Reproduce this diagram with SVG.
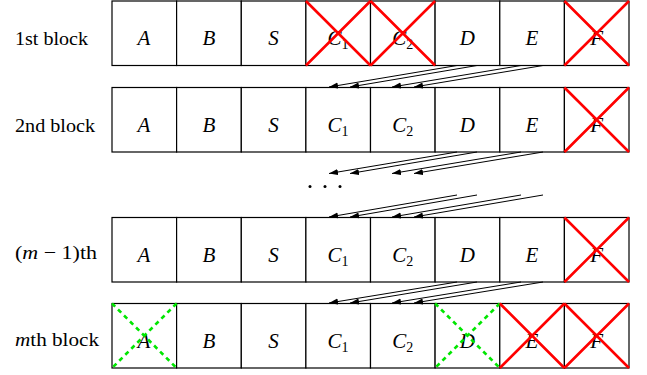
<svg xmlns="http://www.w3.org/2000/svg" width="647" height="375" viewBox="0 0 647 375" font-family="Liberation Serif, serif">
<defs>
<style>
.cell{fill:#fff;stroke:#000;stroke-width:1.2}
.m{font-style:italic;font-size:21px;text-anchor:middle;fill:#000}
.sub{font-style:normal;font-size:14px}
.lbl{font-size:19px;fill:#000}
.rx{stroke:#ff0000;stroke-width:2.6;fill:none}
.gx{stroke:#00e600;stroke-width:2.6;fill:none;stroke-dasharray:4.5,4}
.arr{stroke:#000;stroke-width:1;fill:none;marker-end:url(#ah)}
</style>
<marker id="ah" markerUnits="userSpaceOnUse" markerWidth="10" markerHeight="8" refX="9" refY="3" orient="auto">
<path d="M0,0 L9,3 L0,6 z" fill="#000"/>
</marker>
</defs>
<rect width="647" height="375" fill="#fff"/>

<g id="row1">
<text class="lbl" x="15" y="45" textLength="73" lengthAdjust="spacingAndGlyphs">1st block</text>
<rect class="cell" x="112" y="1" width="64.6" height="64.5"/>
<rect class="cell" x="176.6" y="1" width="64.7" height="64.5"/>
<rect class="cell" x="241.3" y="1" width="64.6" height="64.5"/>
<rect class="cell" x="305.9" y="1" width="64.6" height="64.5"/>
<rect class="cell" x="370.5" y="1" width="64.6" height="64.5"/>
<rect class="cell" x="435.1" y="1" width="64.7" height="64.5"/>
<rect class="cell" x="499.8" y="1" width="64.6" height="64.5"/>
<rect class="cell" x="564.4" y="1" width="64.6" height="64.5"/>
<text class="m" x="144" y="45">A</text>
<text class="m" x="209" y="45">B</text>
<text class="m" x="273.6" y="45">S</text>
<text class="m" x="338" y="45">C<tspan class="sub" dy="4">1</tspan></text>
<text class="m" x="402.8" y="45">C<tspan class="sub" dy="4">2</tspan></text>
<text class="m" x="467.4" y="45">D</text>
<text class="m" x="532" y="45">E</text>
<text class="m" x="596.7" y="45">F</text>
<path class="rx" d="M305.9,1 L370.5,65.5 M370.5,1 L305.9,65.5 M370.5,1 L435.1,65.5 M435.1,1 L370.5,65.5 M564.4,1 L629,65.5 M629,1 L564.4,65.5"/>
</g>

<g id="row2">
<text class="lbl" x="15" y="131.5" textLength="80" lengthAdjust="spacingAndGlyphs">2nd block</text>
<rect class="cell" x="112" y="87.5" width="64.6" height="64.5"/>
<rect class="cell" x="176.6" y="87.5" width="64.7" height="64.5"/>
<rect class="cell" x="241.3" y="87.5" width="64.6" height="64.5"/>
<rect class="cell" x="305.9" y="87.5" width="64.6" height="64.5"/>
<rect class="cell" x="370.5" y="87.5" width="64.6" height="64.5"/>
<rect class="cell" x="435.1" y="87.5" width="64.7" height="64.5"/>
<rect class="cell" x="499.8" y="87.5" width="64.6" height="64.5"/>
<rect class="cell" x="564.4" y="87.5" width="64.6" height="64.5"/>
<text class="m" x="144" y="131.5">A</text>
<text class="m" x="209" y="131.5">B</text>
<text class="m" x="273.6" y="131.5">S</text>
<text class="m" x="338" y="131.5">C<tspan class="sub" dy="4">1</tspan></text>
<text class="m" x="402.8" y="131.5">C<tspan class="sub" dy="4">2</tspan></text>
<text class="m" x="467.4" y="131.5">D</text>
<text class="m" x="532" y="131.5">E</text>
<text class="m" x="596.7" y="131.5">F</text>
<path class="rx" d="M564.4,87.5 L629,152 M629,87.5 L564.4,152"/>
</g>

<g id="dots">
<circle cx="310" cy="186.5" r="1.5" fill="#000"/>
<circle cx="325" cy="186.5" r="1.5" fill="#000"/>
<circle cx="340" cy="186.5" r="1.5" fill="#000"/>
</g>

<g id="row3">
<text class="lbl" x="15" y="259" textLength="82" lengthAdjust="spacingAndGlyphs">(<tspan font-style="italic">m</tspan> − 1)th</text>
<rect class="cell" x="112" y="217.5" width="64.6" height="64.5"/>
<rect class="cell" x="176.6" y="217.5" width="64.7" height="64.5"/>
<rect class="cell" x="241.3" y="217.5" width="64.6" height="64.5"/>
<rect class="cell" x="305.9" y="217.5" width="64.6" height="64.5"/>
<rect class="cell" x="370.5" y="217.5" width="64.6" height="64.5"/>
<rect class="cell" x="435.1" y="217.5" width="64.7" height="64.5"/>
<rect class="cell" x="499.8" y="217.5" width="64.6" height="64.5"/>
<rect class="cell" x="564.4" y="217.5" width="64.6" height="64.5"/>
<text class="m" x="144" y="261.5">A</text>
<text class="m" x="209" y="261.5">B</text>
<text class="m" x="273.6" y="261.5">S</text>
<text class="m" x="338" y="261.5">C<tspan class="sub" dy="4">1</tspan></text>
<text class="m" x="402.8" y="261.5">C<tspan class="sub" dy="4">2</tspan></text>
<text class="m" x="467.4" y="261.5">D</text>
<text class="m" x="532" y="261.5">E</text>
<text class="m" x="596.7" y="261.5">F</text>
<path class="rx" d="M564.4,217.5 L629,282 M629,217.5 L564.4,282"/>
</g>

<g id="row4">
<text class="lbl" x="15" y="346" textLength="84" lengthAdjust="spacingAndGlyphs"><tspan font-style="italic">m</tspan>th block</text>
<rect class="cell" x="112" y="303.5" width="64.6" height="64.5"/>
<rect class="cell" x="176.6" y="303.5" width="64.7" height="64.5"/>
<rect class="cell" x="241.3" y="303.5" width="64.6" height="64.5"/>
<rect class="cell" x="305.9" y="303.5" width="64.6" height="64.5"/>
<rect class="cell" x="370.5" y="303.5" width="64.6" height="64.5"/>
<rect class="cell" x="435.1" y="303.5" width="64.7" height="64.5"/>
<rect class="cell" x="499.8" y="303.5" width="64.6" height="64.5"/>
<rect class="cell" x="564.4" y="303.5" width="64.6" height="64.5"/>
<text class="m" x="144" y="347.5">A</text>
<text class="m" x="209" y="347.5">B</text>
<text class="m" x="273.6" y="347.5">S</text>
<text class="m" x="338" y="347.5">C<tspan class="sub" dy="4">1</tspan></text>
<text class="m" x="402.8" y="347.5">C<tspan class="sub" dy="4">2</tspan></text>
<text class="m" x="467.4" y="347.5">D</text>
<text class="m" x="532" y="347.5">E</text>
<text class="m" x="596.7" y="347.5">F</text>
<path class="gx" d="M112,303.5 L176.6,368 M176.6,303.5 L112,368 M435.1,303.5 L499.8,368 M499.8,303.5 L435.1,368"/>
<path class="rx" d="M499.8,303.5 L564.4,368 M564.4,303.5 L499.8,368 M564.4,303.5 L629,368 M629,303.5 L564.4,368"/>
</g>

<g id="connectors">
<line class="arr" x1="457" y1="65.5" x2="329" y2="87"/>
<line class="arr" x1="477" y1="65.5" x2="350" y2="87"/>
<line class="arr" x1="521" y1="65.5" x2="392" y2="87"/>
<line class="arr" x1="543" y1="65.5" x2="414" y2="87"/>
<line class="arr" x1="457" y1="152" x2="329" y2="173.5"/>
<line class="arr" x1="477" y1="152" x2="350" y2="173.5"/>
<line class="arr" x1="521" y1="152" x2="392" y2="173.5"/>
<line class="arr" x1="543" y1="152" x2="414" y2="173.5"/>
<line class="arr" x1="457" y1="195" x2="329" y2="217"/>
<line class="arr" x1="477" y1="195" x2="350" y2="217"/>
<line class="arr" x1="521" y1="195" x2="392" y2="217"/>
<line class="arr" x1="543" y1="195" x2="414" y2="217"/>
<line class="arr" x1="457" y1="282" x2="329" y2="303"/>
<line class="arr" x1="477" y1="282" x2="350" y2="303"/>
<line class="arr" x1="521" y1="282" x2="392" y2="303"/>
<line class="arr" x1="543" y1="282" x2="414" y2="303"/>
</g>
</svg>
